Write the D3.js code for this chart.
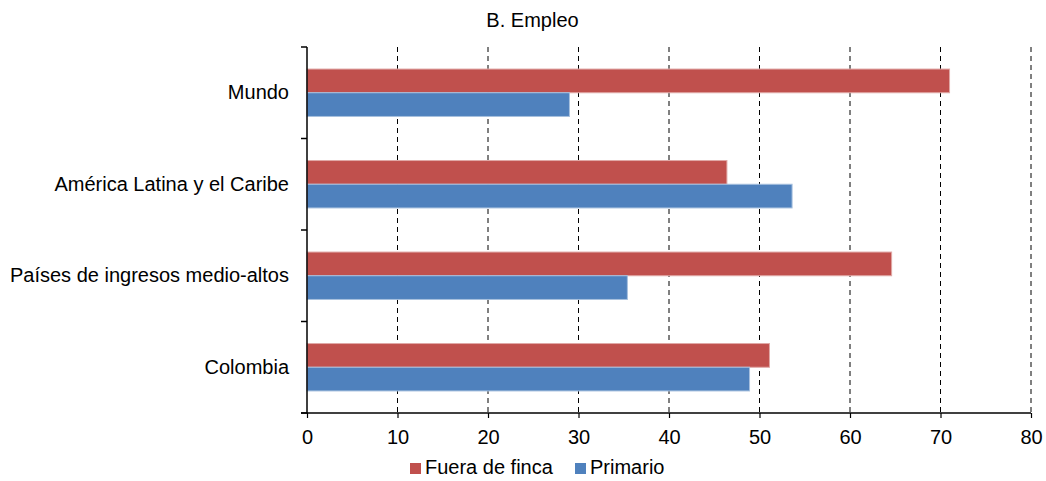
<!DOCTYPE html>
<html>
<head>
<meta charset="utf-8">
<script src="https://cdn.jsdelivr.net/npm/d3@7"></script>
<style>
  body { margin: 0; background: #fff; }
  text { font-family: "Liberation Sans", Arial, sans-serif; fill: #000; }
</style>
</head>
<body>
<div id="viz-container"></div>
<script>
// data
let categories = ["Mundo", "América Latina y el Caribe", "Países de ingresos medio-altos", "Colombia"];
let seriesNames = ["Fuera de finca", "Primario"];
let fueraDeFinca = [71.0, 46.4, 64.6, 51.1];
let primario = [29.0, 53.6, 35.4, 48.9];
let xTicks = [0, 10, 20, 30, 40, 50, 60, 70, 80];
let colors = ["#C0504D", "#4F81BD"];
let strokes = ["#E0A8A6", "#A7C0DE"];

let W = 1046, H = 481;
let pLeft = 307, pRight = 1031, pTop = 47, pBottom = 413;
let fs = "20px";

let viz = d3.select("#viz-container")
  .append("svg")
    .attr("width", W)
    .attr("height", H);

let x = d3.scaleLinear().domain([0, 80]).range([pLeft, pRight]);
let y = d3.scaleBand().domain(categories).range([pTop, pBottom]);
let ySub = d3.scaleBand().domain(seriesNames).range([0, y.bandwidth()]).paddingOuter(0.93).paddingInner(0);

// title
viz.append("text")
  .attr("x", 532.5).attr("y", 26.7)
  .attr("text-anchor", "middle")
  .style("font-size", fs)
  .text("B. Empleo");

// dashed grid
viz.append("g").selectAll("line").data(xTicks.filter(d => d > 0)).enter()
  .append("line")
    .attr("x1", d => x(d)).attr("x2", d => x(d))
    .attr("y1", pTop).attr("y2", pBottom)
    .attr("stroke", "#000")
    .attr("stroke-width", 1)
    .attr("stroke-dasharray", "5,4");

// bars
let rows = categories.map((c, i) => ({cat: c, vals: [fueraDeFinca[i], primario[i]]}));
let grp = viz.append("g").selectAll("g").data(rows).enter()
  .append("g")
    .attr("transform", d => "translate(0," + y(d.cat) + ")");

grp.selectAll("rect").data(d => d.vals.map((v, j) => ({name: seriesNames[j], v: v, j: j}))).enter()
  .append("rect")
    .attr("x", x(0))
    .attr("y", d => ySub(d.name))
    .attr("width", d => x(d.v) - x(0))
    .attr("height", ySub.bandwidth())
    .attr("fill", d => colors[d.j])
    .attr("stroke", d => strokes[d.j])
    .attr("stroke-width", 1);

// x axis
let xAxis = viz.append("g")
  .attr("transform", "translate(0," + pBottom + ")")
  .call(d3.axisBottom(x).tickValues(xTicks).tickSize(5).tickPadding(12).tickFormat(d3.format("d")));
xAxis.select(".domain").attr("stroke", "#000").attr("stroke-width", 1.5).attr("d", "M" + (pLeft - 6) + ",0H" + pRight);
xAxis.selectAll("line").attr("stroke", "#000").attr("stroke-width", 1.2);
xAxis.selectAll("text").style("font-size", fs).style("font-family", "Liberation Sans, Arial, sans-serif");

// y axis
let yAxis = viz.append("g")
  .attr("transform", "translate(" + pLeft + ",0)")
  .call(d3.axisLeft(y).tickSize(0).tickPadding(18));
yAxis.select(".domain").attr("stroke", "#000").attr("stroke-width", 1.5).attr("d", "M0," + pTop + "V" + pBottom);
yAxis.selectAll("text").style("font-size", fs).style("font-family", "Liberation Sans, Arial, sans-serif");

// y tick marks at band edges
let edges = categories.map(c => y(c)).concat([pBottom]);
viz.append("g").selectAll("line").data(edges).enter()
  .append("line")
    .attr("x1", pLeft - 6).attr("x2", pLeft)
    .attr("y1", d => d).attr("y2", d => d)
    .attr("stroke", "#000").attr("stroke-width", 1.5);

// legend
let legend = viz.append("g").attr("transform", "translate(410,474)");
let legX = [0, 165];
let items = legend.selectAll("g").data(seriesNames).enter()
  .append("g")
    .attr("transform", (d, i) => "translate(" + legX[i] + ",0)");
items.append("rect")
  .attr("x", 0).attr("y", -11)
  .attr("width", 11).attr("height", 11)
  .attr("fill", (d, i) => colors[i]);
items.append("text")
  .attr("x", 15).attr("y", 0)
  .style("font-size", fs)
  .text(d => d);
</script>
</body>
</html>
